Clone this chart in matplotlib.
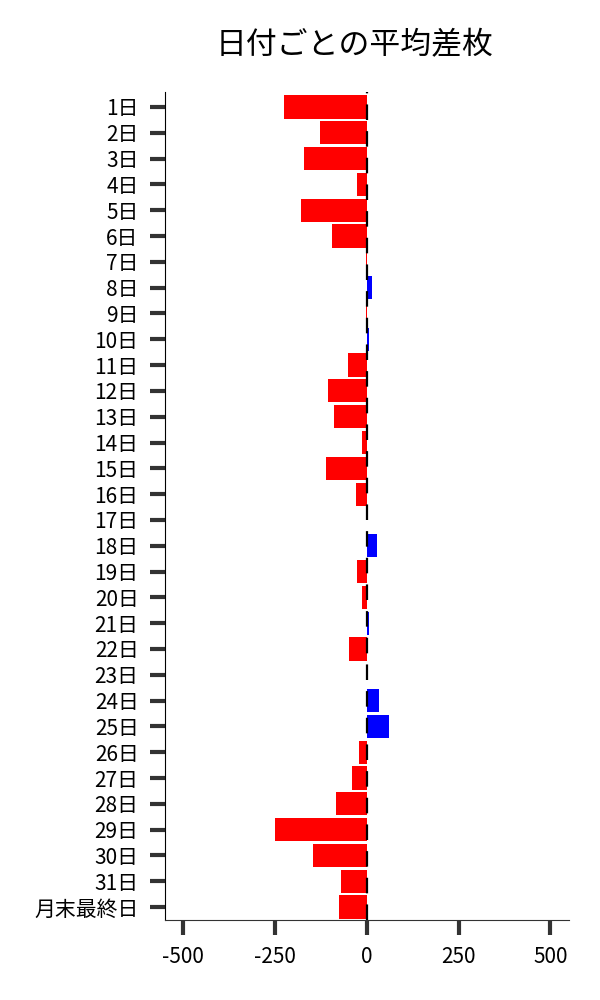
import matplotlib
matplotlib.use("Agg")
import matplotlib.pyplot as plt

plt.rcParams['font.family'] = ['Noto Sans CJK JP', 'DejaVu Sans']

days = [f"{d}日" for d in range(1, 32)] + ["月末最終日"]
avg_diff = [-225, -127, -171, -27, -179, -95, -2, 13, -3, 5, -51,
            -106, -89, -14, -111, -30, 1, 27, -27, -14, 7, -49, 0,
            32, 60, -22, -41, -84, -249, -146, -71, -76]
xticks = [-500, -250, 0, 250, 500]
xtick_labels = ["-500", "-250", "0", "250", "500"]

colors = ['#ff0000' if v < 0 else '#0000ff' for v in avg_diff]

fig = plt.figure(figsize=(6, 10), dpi=100)
ax = fig.add_axes([0.275, 0.08, 0.673, 0.828])

ax.barh(range(len(days)), avg_diff, height=0.9, color=colors)
ax.axvline(0, color='black', linestyle='--', linewidth=1.6, dashes=(7, 5), zorder=3)

ax.set_xlim(-550, 550)
ax.set_ylim(len(days) - 0.5, -0.58)
ax.set_yticks(range(len(days)))
ax.set_yticklabels(days)
ax.set_xticks(xticks)
ax.set_xticklabels(xtick_labels)

ax.spines['top'].set_visible(False)
ax.spines['right'].set_visible(False)
ax.spines['left'].set_color('black')
ax.spines['bottom'].set_color('#333333')
ax.tick_params(axis='both', length=11, width=3, color='#333333',
               labelsize=15, pad=8)

ax.set_title("日付ごとの平均差枚", fontsize=22.2, pad=27, x=0.47)

fig.savefig("out.png", dpi=100)
